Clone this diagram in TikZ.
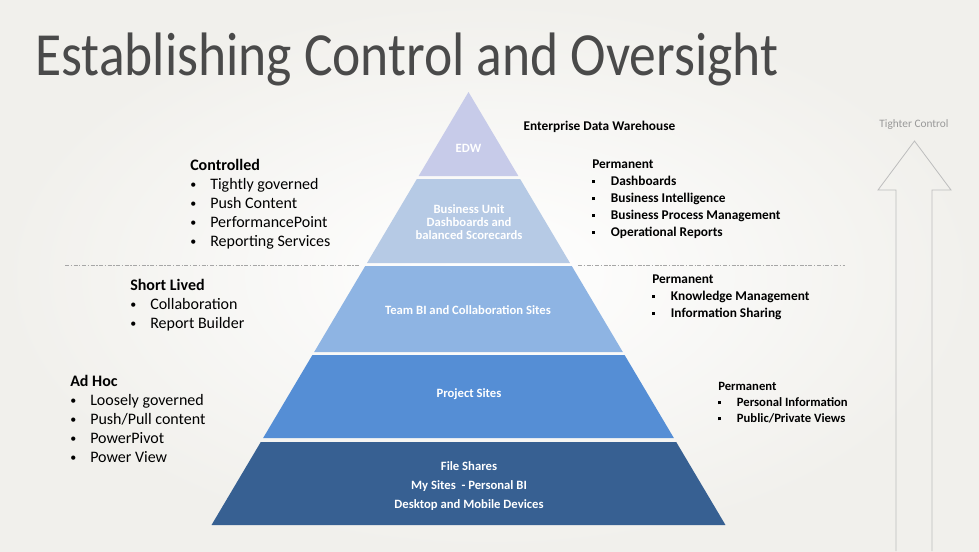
\documentclass[tikz,border=0pt]{standalone}
\usepackage{fontspec}
\setmainfont{Carlito}
\usepackage{tikz}
\usetikzlibrary{calc}

\definecolor{paper}{HTML}{F1F0EC}
\definecolor{titlegray}{HTML}{4A4A4A}
\definecolor{layerA}{HTML}{C7CBE9}
\definecolor{layerB}{HTML}{B6CAE5}
\definecolor{layerC}{HTML}{8EB4E3}
\definecolor{layerD}{HTML}{558ED5}
\definecolor{layerE}{HTML}{376092}
\definecolor{rulegray}{HTML}{A6A6A6}
\definecolor{arrowgray}{HTML}{BDBDBD}

\newcommand{\rb}{\makebox[15pt][l]{\raisebox{0.6pt}{\scalebox{0.75}{\textbullet}}}}
\newcommand{\sqb}{\makebox[14pt][l]{\rule[1.6pt]{2.4pt}{2.4pt}}}

\tikzset{
 lvl/.style={text=white, font=\fontsize{9.5}{14.25}\selectfont\bfseries, align=center, inner sep=0pt},
 lst/.style={anchor=north west, inner sep=0pt, text=black},
 sep/.style={rulegray, line width=0.6pt, dash pattern=on 3pt off 1.2pt on 1pt off 1.2pt}
}

\begin{document}
\begin{tikzpicture}[x=0.75pt,y=-0.75pt]
 \useasboundingbox (0,0) rectangle (979,551);
 \shade[inner color=white, outer color=paper] (0,0) rectangle (979,551);

 % pyramid
 \foreach \t/\b/\c in {92/176/layerA, 179/263/layerB, 266/352/layerC, 355/438/layerD, 442/525/layerE}
  \fill[\c] ({468.5-0.5935*(\t-92)},\t) -- ({468.5+0.5935*(\t-92)},\t)
   -- ({468.5+0.5935*(\b-92)},\b) -- ({468.5-0.5935*(\b-92)},\b) -- cycle;

 \node[anchor=base west, inner sep=0pt, text=titlegray, font=\fontsize{46}{50}\selectfont] (title) at (35,75) {\scalebox{0.873}[1]{Establishing Control and Oversight}};

 \node[lvl] (L1) at (468.5,148) {EDW};
 \node[lvl, font=\fontsize{9.5}{9.75}\selectfont\bfseries] (L2) at (469,222) {Business Unit\\Dashboards and\\balanced Scorecards};
 \node[lvl] (L3) at (468,310) {Team BI and Collaboration Sites};
 \node[lvl] (L4) at (469,394) {Project Sites};
 \node[lvl] (L5) at (469,486) {File Shares\\My Sites\ \ - Personal BI\\Desktop and Mobile Devices};

 \node[inner sep=0pt, font=\fontsize{10}{12}\selectfont\bfseries] (edw) at (599.5,127) {Enterprise Data Warehouse};

 % left side
 \node[lst, font=\fontsize{12}{14.25}\selectfont] (ctrl) at (190,157) {\begin{tabular}{@{}l@{}}
  \textbf{Controlled}\\ \rb Tightly governed\\ \rb Push Content\\ \rb PerformancePoint\\ \rb Reporting Services
 \end{tabular}};
 \node[lst, font=\fontsize{12}{14.25}\selectfont] (short) at (130,277) {\begin{tabular}{@{}l@{}}
  \textbf{Short Lived}\\ \rb Collaboration\\ \rb Report Builder
 \end{tabular}};
 \node[lst, font=\fontsize{12}{14.25}\selectfont] (adhoc) at (70,373) {\begin{tabular}{@{}l@{}}
  \textbf{Ad Hoc}\\ \rb Loosely governed\\ \rb Push/Pull content\\ \rb PowerPivot\\ \rb Power View
 \end{tabular}};

 % right side
 \node[lst, font=\fontsize{10}{12.75}\selectfont\bfseries] (permA) at (592,156) {\begin{tabular}{@{}l@{}}
  Permanent\\ \sqb Dashboards\\ \sqb Business Intelligence\\ \sqb Business Process Management\\ \sqb Operational Reports
 \end{tabular}};
 \node[lst, font=\fontsize{10}{12.75}\selectfont\bfseries] (permB) at (652,271) {\begin{tabular}{@{}l@{}}
  Permanent\\ \sqb Knowledge Management\\ \sqb Information Sharing
 \end{tabular}};
 \node[lst, font=\fontsize{9.5}{12}\selectfont\bfseries] (permC) at (718,379) {\begin{tabular}{@{}l@{}}
  Permanent\\ \sqb Personal Information\\ \sqb Public/Private Views
 \end{tabular}};

 % separators
 \draw[sep] (65,265) -- (360,265);
 \draw[sep] (578,265) -- (845,265);

 % arrow
 \draw[arrowgray, line width=0.6pt] (896,551) -- (896,190) -- (878,190) -- (914.5,141)
  -- (951,190) -- (932,190) -- (932,551);
 \node[inner sep=0pt, text=gray!80, font=\fontsize{8.5}{10}\selectfont] (tight) at (914,125) {Tighter Control};
\end{tikzpicture}
\end{document}
